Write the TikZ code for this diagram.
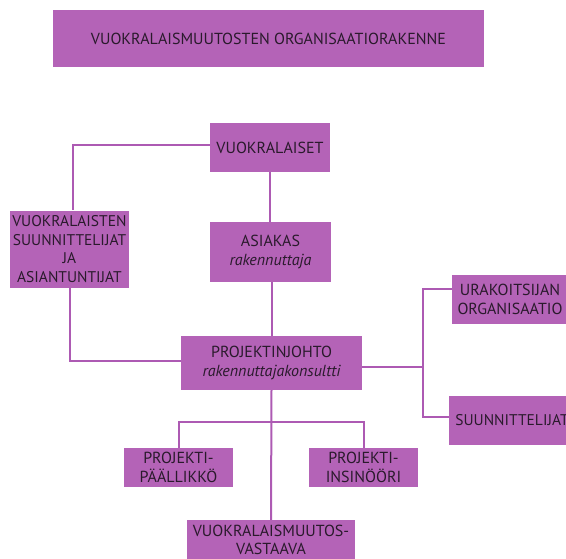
\documentclass[tikz,border=0pt]{standalone}
\usepackage{fontspec}
\setmainfont{PT Sans}
\definecolor{boxfill}{HTML}{B463B7}
\definecolor{linkcol}{HTML}{AD5AB3}
\definecolor{inkcol}{HTML}{2A1A2C}
\tikzset{
  orgbox/.style={fill=boxfill, draw=none, inner sep=0pt, align=center,
    text=inkcol, font=\fontsize{16}{18.5}\selectfont},
  link/.style={draw=linkcol, line width=2pt},
}
\begin{document}
\begin{tikzpicture}[x=1pt,y=-1pt]
\useasboundingbox (0,0) rectangle (566,558);
\clip (0,0) rectangle (566,558);
% title banner
\node[orgbox, minimum width=431pt, minimum height=57pt] (title) at (268.5,38.5)
  {VUOKRALAISMUUTOSTEN ORGANISAATIORAKENNE};
% hierarchy boxes
\node[orgbox, minimum width=120pt, minimum height=49pt] (tenants) at (270,147.5) {VUOKRALAISET};
\node[orgbox, minimum width=119pt, minimum height=77pt,
  font=\fontsize{15.5}{18.5}\selectfont] (experts) at (69.5,249)
  {VUOKRALAISTEN\\SUUNNITTELIJAT\\JA\\ASIANTUNTIJAT};
\node[orgbox, minimum width=121pt, minimum height=60pt] (client) at (270.5,252)
  {ASIAKAS\\\itshape rakennuttaja};
\node[orgbox, minimum width=181pt, minimum height=54pt] (pm) at (271.5,363)
  {PROJEKTINJOHTO\\\itshape rakennuttajakonsultti};
\node[orgbox, minimum width=116pt, minimum height=49pt]
  (contractor) at (510,299.5) {URAKOITSIJAN\\ORGANISAATIO};
\node[orgbox, minimum width=126pt, minimum height=49pt,
  font=\fontsize{15.5}{18.5}\selectfont]
  (designers) at (512,420.5) {SUUNNITTELIJAT};
\node[orgbox, minimum width=109pt, minimum height=39pt] (manager) at (178.5,467.5)
  {PROJEKTI-\\PÄÄLLIKKÖ};
\node[orgbox, minimum width=109pt, minimum height=39pt] (engineer) at (363.5,467.5)
  {PROJEKTI-\\INSINÖÖRI};
\node[orgbox, minimum width=168pt, minimum height=40pt] (liaison) at (271,540)
  {VUOKRALAISMUUTOS-\\VASTAAVA};
% junction points
\coordinate (rj) at (423,367);
\coordinate (bj) at (271.5,422);
% connectors
\draw[link] ([yshift=2.5pt]tenants.west) -| ([xshift=3.5pt]experts.north);
\draw[link] (tenants.south) -- (tenants.south |- client.north);
\draw[link] (client.south -| pm.north) -- (pm.north);
\draw[link] (experts.south) |- ([yshift=2pt]pm.west);
\draw[link] ([yshift=-4pt]pm.east) -- (rj);
\draw[link] ([yshift=10.5pt]contractor.west) -| (rj) |- ([yshift=3.5pt]designers.west);
\draw[link] (pm.south) -- (liaison.north);
\draw[link] (manager.north) |- (bj) -| (engineer.north);
\end{tikzpicture}
\end{document}
